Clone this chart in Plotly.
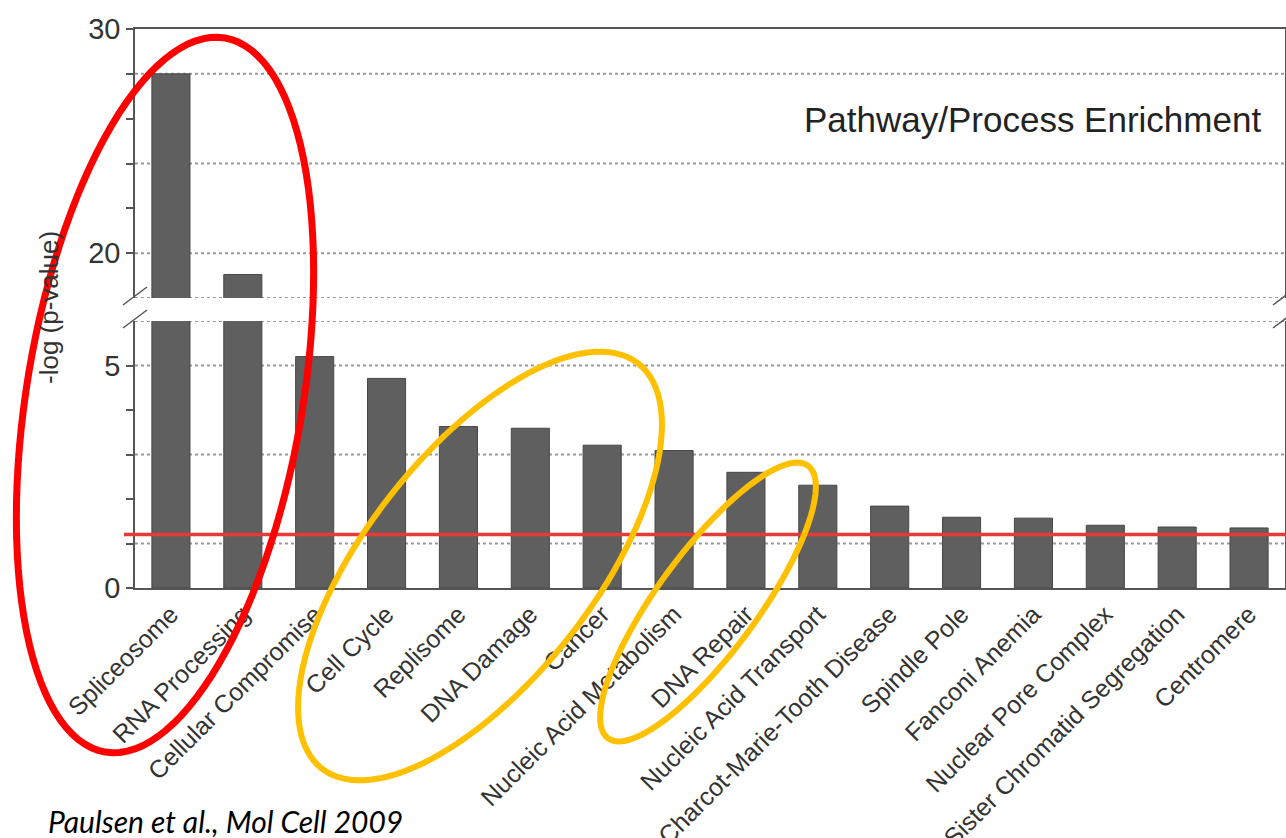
import numpy as np
import plotly.graph_objects as go

categories = ["Spliceosome", "RNA Processing", "Cellular Compromise", "Cell Cycle",
              "Replisome", "DNA Damage", "Cancer", "Nucleic Acid Metabolism",
              "DNA Repair", "Nucleic Acid Transport", "Charcot-Marie-Tooth Disease",
              "Spindle Pole", "Fanconi Anemia", "Nuclear Pore Complex",
              "Sister Chromatid Segregation", "Centromere"]
neg_log_p = [28.0, 19.05, 5.2, 4.71, 3.63, 3.59, 3.21, 3.09, 2.60, 2.31,
             1.84, 1.59, 1.57, 1.41, 1.37, 1.35]
threshold = 1.2

lower_range = [0, 6]
upper_range = [18, 30]
lower_ticks = [0, 1, 2, 3, 4, 5]
lower_ticktext = ["0", "", "", "", "", "5"]
upper_ticks = [20, 22, 24, 26, 28, 30]
upper_ticktext = ["20", "", "", "", "", "30"]
lower_grid = [1, 3, 5, 6]
upper_grid = [18, 20, 24, 28]

W, H = 1286, 838
def px(x):
    return x / W
def py(y):
    return 1 - y / H

FONT = "Liberation Sans, Arial, sans-serif"
BAR = "#5f5f5f"
AX = "#555555"

fig = go.Figure()
x_idx = list(range(len(categories)))
fig.add_trace(go.Bar(x=x_idx, y=neg_log_p, xaxis="x", yaxis="y",
                     marker=dict(color=BAR, line=dict(color="#474747", width=1)),
                     showlegend=False, hoverinfo="skip"))
fig.add_trace(go.Bar(x=x_idx, y=neg_log_p, xaxis="x2", yaxis="y2",
                     marker=dict(color=BAR, line=dict(color="#474747", width=1)),
                     showlegend=False, hoverinfo="skip"))

xdom = [px(135), px(1285)]
lower_dom = [py(588), py(321)]
upper_dom = [py(298), py(29)]

shapes = []
for g in lower_grid:
    shapes.append(dict(type="line", xref="x domain", yref="y", x0=0, x1=1, y0=g, y1=g,
                       line=dict(color="#9a9a9a", width=2, dash="dot"), layer="below"))
for g in upper_grid:
    shapes.append(dict(type="line", xref="x2 domain", yref="y2", x0=0, x1=1, y0=g, y1=g,
                       line=dict(color="#9a9a9a", width=2, dash="dot"), layer="below"))
# significance threshold
shapes.append(dict(type="line", xref="paper", yref="y", x0=px(124), x1=1, y0=threshold, y1=threshold,
                   line=dict(color="#e8393a", width=3.5), layer="above"))
# axis break marks
for cx in (135, 1285):
    for cy in (296, 319):
        shapes.append(dict(type="line", xref="paper", yref="paper",
                           x0=px(cx - 12), y0=py(cy + 9), x1=px(cx + 12), y1=py(cy - 9),
                           line=dict(color=AX, width=1.5)))

def ellipse_path(cx, cy, a, b, phi_deg, n=120):
    phi = np.deg2rad(phi_deg)
    t = np.linspace(0, 2 * np.pi, n, endpoint=False)
    xs = cx + a * np.cos(t) * np.cos(phi) - b * np.sin(t) * np.sin(phi)
    ys = cy - (a * np.cos(t) * np.sin(phi) + b * np.sin(t) * np.cos(phi))
    pts = [f"{px(x):.5f},{py(y):.5f}" for x, y in zip(xs, ys)]
    return "M " + " L ".join(pts) + " Z"

shapes.append(dict(type="path", xref="paper", yref="paper",
                   path=ellipse_path(165, 395, 362, 138, 80.5),
                   line=dict(color="#ff0000", width=7), layer="above"))
shapes.append(dict(type="path", xref="paper", yref="paper",
                   path=ellipse_path(480, 566, 257, 114, 52),
                   line=dict(color="#ffc000", width=6), layer="above"))
shapes.append(dict(type="path", xref="paper", yref="paper",
                   path=ellipse_path(708, 602, 169, 50, 53.7),
                   line=dict(color="#ffc000", width=6), layer="above"))

annotations = [
    dict(text="Pathway/Process Enrichment", xref="paper", yref="paper",
         x=px(1263), y=py(119), xanchor="right", yanchor="middle", showarrow=False,
         font=dict(family=FONT, size=35, color="#222222")),
    dict(text="-log (p-value)", xref="paper", yref="paper", x=px(49), y=py(308),
         xanchor="center", yanchor="middle", textangle=-90, showarrow=False,
         font=dict(family=FONT, size=26, color="#333333")),
    dict(text="<i>Paulsen et al., Mol Cell 2009</i>", xref="paper", yref="paper",
         x=px(46), y=py(821), xanchor="left", yanchor="middle", showarrow=False,
         font=dict(family="Lato, Carlito, sans-serif", size=30, color="#000000")),
]

fig.update_layout(
    width=W, height=H, margin=dict(l=0, r=0, t=0, b=0, autoexpand=False),
    paper_bgcolor="white", plot_bgcolor="white",
    bargap=0.47, showlegend=False,
    xaxis=dict(domain=xdom, anchor="y", range=[-0.5, len(categories) - 0.5],
               tickmode="array", tickvals=x_idx, ticktext=categories, tickangle=-45,
               tickfont=dict(family=FONT, size=25, color="#333333"),
               showline=True, linecolor=AX, linewidth=1.5, ticks="", showgrid=False,
               zeroline=False, automargin=False),
    xaxis2=dict(domain=xdom, anchor="y2", matches="x", side="top",
                showticklabels=False, showline=True, linecolor=AX, linewidth=1.5,
                ticks="", showgrid=False, zeroline=False, automargin=False),
    yaxis=dict(domain=lower_dom, anchor="x", range=lower_range,
               tickmode="array", tickvals=lower_ticks, ticktext=lower_ticktext,
               ticks="outside", ticklen=7, tickwidth=1.5, tickcolor=AX,
               tickfont=dict(family=FONT, size=29, color="#333333"),
               showline=True, mirror=True, linecolor=AX, linewidth=1.5,
               showgrid=False, zeroline=False, automargin=False),
    yaxis2=dict(domain=upper_dom, anchor="x2", range=upper_range,
                tickmode="array", tickvals=upper_ticks, ticktext=upper_ticktext,
                ticks="outside", ticklen=7, tickwidth=1.5, tickcolor=AX,
                tickfont=dict(family=FONT, size=29, color="#333333"),
                showline=True, mirror=True, linecolor=AX, linewidth=1.5,
                showgrid=False, zeroline=False, automargin=False),
    shapes=shapes, annotations=annotations,
)

fig.write_html("out.html")
